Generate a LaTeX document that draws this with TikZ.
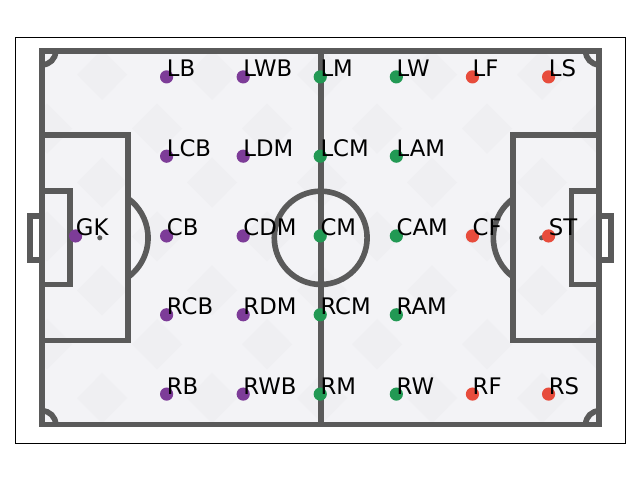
\documentclass[tikz,border=0pt]{standalone}
\usepackage{fontspec}
\setmainfont{DejaVu Sans}
\usetikzlibrary{calc}

\definecolor{pitchline}{RGB}{90,90,90}
\definecolor{pitchface}{RGB}{243,243,246}
\definecolor{pitchtile}{RGB}{239,239,242}
\definecolor{defcol}{HTML}{7D3C98}
\definecolor{midcol}{HTML}{229954}
\definecolor{attcol}{HTML}{E74C3C}

\begin{document}
\begin{tikzpicture}[x=0.116cm,y=0.1166cm,
  pitch/.style={draw=pitchline,line width=4pt},
  spot/.style={fill=pitchline},
  player/.style={circle,inner sep=0pt,minimum size=0.33cm},
  defender/.style={player,fill=defcol},
  midfielder/.style={player,fill=midcol},
  attacker/.style={player,fill=attcol},
  poslabel/.style={anchor=base west,inner sep=0pt,font=\fontsize{16.2}{18}\selectfont}]

\useasboundingbox (-9.1,-11.94) rectangle (128.8,90.98);

% axes frame
\draw[black,line width=0.7pt] (-5.86,-4.0) rectangle (125.6,83.04);

% pitch face with faint tiles
\fill[pitchface] (-0.45,-0.45) rectangle (120.45,80.45);
\begin{scope}
\clip (-0.45,-0.45) rectangle (120.45,80.45);
\foreach \a in {-1,...,5}
  \foreach \b in {-2,...,3} {
    \fill[pitchtile] ($(12.9,28.75)+(23.7*\a,23.1*\b)$) +(5.4,0)--+(0,5.4)--+(-5.4,0)--+(0,-5.4)--cycle;
    \fill[pitchtile] ($(24.75,40.3)+(23.7*\a,23.1*\b)$) +(5.4,0)--+(0,5.4)--+(-5.4,0)--+(0,-5.4)--cycle;
  }
\end{scope}

% lines
\draw[pitch] (0,0) rectangle (120,80);
\draw[pitch] (60,0)--(60,80);
\draw[pitch] (60,40) circle (10);
\draw[pitch] (0,18) rectangle (18.5,62);
\draw[pitch] (0,30) rectangle (6,50);
\draw[pitch] (120,18) rectangle (101.5,62);
\draw[pitch] (120,30) rectangle (114,50);
\draw[pitch] (0,35.3)--(-2.6,35.3)--(-2.6,44.7)--(0,44.7);
\draw[pitch] (120,35.3)--(122.6,35.3)--(122.6,44.7)--(120,44.7);
\draw[pitch] (12.4,40) ++(-54.1:10.4) arc[start angle=-54.1,end angle=54.1,radius=10.4];
\draw[pitch] (107.6,40) ++(125.9:10.4) arc[start angle=125.9,end angle=234.1,radius=10.4];
\draw[pitch] (2.9,0) arc[start angle=0,end angle=90,radius=2.9];
\draw[pitch] (0,77.1) arc[start angle=-90,end angle=0,radius=2.9];
\draw[pitch] (117.1,80) arc[start angle=180,end angle=270,radius=2.9];
\draw[pitch] (120,2.9) arc[start angle=90,end angle=180,radius=2.9];
\fill[spot] (12.4,40) circle (0.55);
\fill[spot] (107.6,40) circle (0.55);

% defenders
\node[defender] (gk) at (7.2,40.4) {};
\node[defender] (lb) at (26.8,74.5) {};
\node[defender] (lcb) at (26.8,57.5) {};
\node[defender] (cb) at (26.8,40.4) {};
\node[defender] (rcb) at (26.8,23.5) {};
\node[defender] (rb) at (26.8,6.5) {};
\node[defender] (lwb) at (43.3,74.5) {};
\node[defender] (ldm) at (43.3,57.5) {};
\node[defender] (cdm) at (43.3,40.4) {};
\node[defender] (rdm) at (43.3,23.5) {};
\node[defender] (rwb) at (43.3,6.5) {};

% midfielders
\node[midfielder] (lm) at (59.9,74.5) {};
\node[midfielder] (lcm) at (59.9,57.5) {};
\node[midfielder] (cm) at (59.9,40.4) {};
\node[midfielder] (rcm) at (59.9,23.5) {};
\node[midfielder] (rm) at (59.9,6.5) {};
\node[midfielder] (lw) at (76.3,74.5) {};
\node[midfielder] (lam) at (76.3,57.5) {};
\node[midfielder] (cam) at (76.3,40.4) {};
\node[midfielder] (ram) at (76.3,23.5) {};
\node[midfielder] (rw) at (76.3,6.5) {};

% forwards
\node[attacker] (lf) at (92.7,74.5) {};
\node[attacker] (cf) at (92.7,40.4) {};
\node[attacker] (rf) at (92.7,6.5) {};
\node[attacker] (ls) at (109.1,74.5) {};
\node[attacker] (st) at (109.1,40.4) {};
\node[attacker] (rs) at (109.1,6.5) {};

% labels
\node[poslabel] (gktxt) at (gk.center) {GK};
\node[poslabel] (lbtxt) at (lb.center) {LB};
\node[poslabel] (lcbtxt) at (lcb.center) {LCB};
\node[poslabel] (cbtxt) at (cb.center) {CB};
\node[poslabel] (rcbtxt) at (rcb.center) {RCB};
\node[poslabel] (rbtxt) at (rb.center) {RB};
\node[poslabel] (lwbtxt) at (lwb.center) {LWB};
\node[poslabel] (ldmtxt) at (ldm.center) {LDM};
\node[poslabel] (cdmtxt) at (cdm.center) {CDM};
\node[poslabel] (rdmtxt) at (rdm.center) {RDM};
\node[poslabel] (rwbtxt) at (rwb.center) {RWB};
\node[poslabel] (lmtxt) at (lm.center) {LM};
\node[poslabel] (lcmtxt) at (lcm.center) {LCM};
\node[poslabel] (cmtxt) at (cm.center) {CM};
\node[poslabel] (rcmtxt) at (rcm.center) {RCM};
\node[poslabel] (rmtxt) at (rm.center) {RM};
\node[poslabel] (lwtxt) at (lw.center) {LW};
\node[poslabel] (lamtxt) at (lam.center) {LAM};
\node[poslabel] (camtxt) at (cam.center) {CAM};
\node[poslabel] (ramtxt) at (ram.center) {RAM};
\node[poslabel] (rwtxt) at (rw.center) {RW};
\node[poslabel] (lftxt) at (lf.center) {LF};
\node[poslabel] (cftxt) at (cf.center) {CF};
\node[poslabel] (rftxt) at (rf.center) {RF};
\node[poslabel] (lstxt) at (ls.center) {LS};
\node[poslabel] (sttxt) at (st.center) {ST};
\node[poslabel] (rstxt) at (rs.center) {RS};

\end{tikzpicture}
\end{document}
